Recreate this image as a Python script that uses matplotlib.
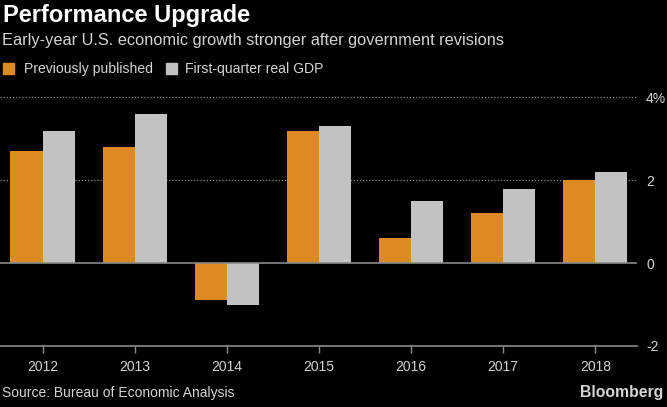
import numpy as np
import matplotlib
matplotlib.use('Agg')
import matplotlib.pyplot as plt

plt.rcParams['font.family'] = ['Liberation Sans', 'DejaVu Sans']

years = ['2012', '2013', '2014', '2015', '2016', '2017', '2018']
previously = [2.7, 2.8, -0.9, 3.2, 0.6, 1.2, 2.0]
first_quarter = [3.2, 3.6, -1.0, 3.3, 1.5, 1.8, 2.2]
y_ticks = [-2, 0, 2, 4]
y_labels = ['-2', '0', '2', '4%']

orange = '#de8a22'
grey = '#c2c2c2'
text_col = '#d4d4d4'
line_col = '#8a8a8a'

fig = plt.figure(figsize=(6.67, 4.07), dpi=100, facecolor='black')
ax = fig.add_axes([0.0, 0.150, 0.955, 0.6106], facecolor='black')

x = np.arange(len(years))
w = 0.35
ax.bar(x - w / 2, previously, w, color=orange, zorder=3)
ax.bar(x + w / 2, first_quarter, w, color=grey, zorder=3)

ax.set_xlim(-0.464, 6.453)
ax.set_ylim(-2, 4)

#grid lines
ax.axhline(4, color=line_col, linestyle=(0, (1, 1.5)), linewidth=0.9, zorder=1, clip_on=False)
ax.axhline(2, color=line_col, linestyle=(0, (1, 1.5)), linewidth=0.9, zorder=1)
ax.axhline(0, color=line_col, linewidth=1.2, zorder=4)

for s in ['top', 'left', 'right']:
    ax.spines[s].set_visible(False)
ax.spines['bottom'].set_color(line_col)
ax.spines['bottom'].set_linewidth(1.2)

ax.yaxis.tick_right()
ax.set_yticks(y_ticks)
ax.set_yticklabels(y_labels)
ax.tick_params(axis='y', length=0, pad=6.5, labelsize=10, labelcolor=text_col)
ax.set_xticks(x)
ax.set_xticklabels(years)
ax.tick_params(axis='x', length=5, width=1, color=line_col, pad=5,
               labelsize=10, labelcolor=text_col)

#titles
fig.text(0.004, 0.946, 'Performance Upgrade', color='white', fontsize=17,
         fontweight='bold', va='baseline')
fig.text(0.003, 0.889, 'Early-year U.S. economic growth stronger after government revisions',
         color=text_col, fontsize=11.8, va='baseline')

#legend
fig.patches.append(plt.Rectangle((0.0045, 0.818), 0.0165, 0.027, color=orange,
                                 transform=fig.transFigure, figure=fig))
fig.text(0.036, 0.8206, 'Previously published', color=text_col, fontsize=10.1, va='baseline')
fig.patches.append(plt.Rectangle((0.249, 0.818), 0.0165, 0.027, color=grey,
                                 transform=fig.transFigure, figure=fig))
fig.text(0.277, 0.8206, 'First-quarter real GDP', color=text_col, fontsize=10.1, va='baseline')

#footer
fig.text(0.003, 0.0246, 'Source: Bureau of Economic Analysis', color=text_col,
         fontsize=10, va='baseline')
fig.text(0.994, 0.0246, 'Bloomberg', color=text_col, fontsize=11.3, fontweight='bold',
         ha='right', va='baseline')

fig.savefig('out.png', dpi=100, facecolor='black')
